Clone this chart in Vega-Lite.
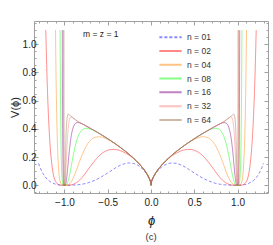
{
  "$schema": "https://vega.github.io/schema/vega-lite/v6.json",
  "width": 234,
  "height": 172,
  "autosize": "none",
  "padding": {"left": 34, "top": 21, "right": 5, "bottom": 52},
  "background": "white",
  "title": {"text": "(c)", "orient": "bottom", "fontSize": 9.5, "fontWeight": "normal", "color": "#333333", "font": "Liberation Sans", "offset": 5},
  "config": {
    "font": "Liberation Sans",
    "view": {"stroke": "#a0a0a0", "strokeWidth": 1},
    "axis": {"grid": false, "domain": false, "tickColor": "#a0a0a0", "tickWidth": 1, "labelColor": "#222222", "labelFont": "Liberation Sans", "labelFontSize": 10, "titleColor": "#222222", "titleFont": "Liberation Sans", "titleFontWeight": "normal"},
    "legend": {"orient": "none", "legendX": 124, "legendY": 10, "symbolType": "stroke", "symbolSize": 497, "symbolStrokeWidth": 2, "symbolOpacity": 1, "labelFontSize": 8.5, "labelColor": "#333333", "labelFont": "Liberation Sans", "labelOffset": 4, "rowPadding": 0.8, "clipHeight": 12.3}
  },
  "datasets": {
    "curves": [
      {"n":"n = 01","x":-1.3,"v":0.155},{"n":"n = 01","x":-1.25,"v":0.085},{"n":"n = 01","x":-1.2,"v":0.043},{"n":"n = 01","x":-1.15,"v":0.02},{"n":"n = 01","x":-1.1,"v":0.007},{"n":"n = 01","x":-1.05,"v":0.001},{"n":"n = 01","x":-1,"v":0},{"n":"n = 01","x":-0.95,"v":0},{"n":"n = 01","x":-0.9,"v":0.001},{"n":"n = 01","x":-0.85,"v":0.003},{"n":"n = 01","x":-0.8,"v":0.007},{"n":"n = 01","x":-0.75,"v":0.013},{"n":"n = 01","x":-0.7,"v":0.023},{"n":"n = 01","x":-0.65,"v":0.035},{"n":"n = 01","x":-0.6,"v":0.05},{"n":"n = 01","x":-0.55,"v":0.068},{"n":"n = 01","x":-0.5,"v":0.087},{"n":"n = 01","x":-0.45,"v":0.107},{"n":"n = 01","x":-0.4,"v":0.127},{"n":"n = 01","x":-0.35,"v":0.143},{"n":"n = 01","x":-0.3,"v":0.154},{"n":"n = 01","x":-0.25,"v":0.158},{"n":"n = 01","x":-0.2,"v":0.154},{"n":"n = 01","x":-0.15,"v":0.141},{"n":"n = 01","x":-0.1,"v":0.117},{"n":"n = 01","x":-0.05,"v":0.079},{"n":"n = 01","x":-0.02,"v":0.046},{"n":"n = 01","x":-0.005,"v":0.02},
      {"n":"n = 01","x":0,"v":0},
      {"n":"n = 01","x":0.005,"v":0.02},{"n":"n = 01","x":0.02,"v":0.046},{"n":"n = 01","x":0.05,"v":0.079},{"n":"n = 01","x":0.1,"v":0.117},{"n":"n = 01","x":0.15,"v":0.141},{"n":"n = 01","x":0.2,"v":0.154},{"n":"n = 01","x":0.25,"v":0.158},{"n":"n = 01","x":0.3,"v":0.154},{"n":"n = 01","x":0.35,"v":0.143},{"n":"n = 01","x":0.4,"v":0.127},{"n":"n = 01","x":0.45,"v":0.107},{"n":"n = 01","x":0.5,"v":0.087},{"n":"n = 01","x":0.55,"v":0.068},{"n":"n = 01","x":0.6,"v":0.05},{"n":"n = 01","x":0.65,"v":0.035},{"n":"n = 01","x":0.7,"v":0.023},{"n":"n = 01","x":0.75,"v":0.013},{"n":"n = 01","x":0.8,"v":0.007},{"n":"n = 01","x":0.85,"v":0.003},{"n":"n = 01","x":0.9,"v":0.001},{"n":"n = 01","x":0.95,"v":0},{"n":"n = 01","x":1,"v":0},{"n":"n = 01","x":1.05,"v":0.001},{"n":"n = 01","x":1.1,"v":0.007},{"n":"n = 01","x":1.15,"v":0.02},{"n":"n = 01","x":1.2,"v":0.043},{"n":"n = 01","x":1.25,"v":0.085},{"n":"n = 01","x":1.3,"v":0.155},

      {"n":"n = 02","x":-1.2158,"v":1.1},{"n":"n = 02","x":-1.2,"v":0.741},{"n":"n = 02","x":-1.175,"v":0.371},{"n":"n = 02","x":-1.15,"v":0.171},{"n":"n = 02","x":-1.1,"v":0.0246},{"n":"n = 02","x":-1.05,"v":0.0011},{"n":"n = 02","x":-1,"v":0},{"n":"n = 02","x":-0.95,"v":0.0006},{"n":"n = 02","x":-0.9,"v":0.0066},{"n":"n = 02","x":-0.85,"v":0.0237},{"n":"n = 02","x":-0.8,"v":0.053},{"n":"n = 02","x":-0.75,"v":0.092},{"n":"n = 02","x":-0.7,"v":0.134},{"n":"n = 02","x":-0.65,"v":0.174},{"n":"n = 02","x":-0.6,"v":0.208},{"n":"n = 02","x":-0.55,"v":0.233},{"n":"n = 02","x":-0.5,"v":0.248},{"n":"n = 02","x":-0.45,"v":0.254},{"n":"n = 02","x":-0.4,"v":0.252},{"n":"n = 02","x":-0.35,"v":0.244},{"n":"n = 02","x":-0.3,"v":0.23},{"n":"n = 02","x":-0.25,"v":0.212},{"n":"n = 02","x":-0.2,"v":0.1885},{"n":"n = 02","x":-0.15,"v":0.1598},{"n":"n = 02","x":-0.1,"v":0.1256},{"n":"n = 02","x":-0.05,"v":0.0829},{"n":"n = 02","x":-0.02,"v":0.0478},{"n":"n = 02","x":-0.005,"v":0.0208},
      {"n":"n = 02","x":0,"v":0},
      {"n":"n = 02","x":0.005,"v":0.0208},{"n":"n = 02","x":0.02,"v":0.0478},{"n":"n = 02","x":0.05,"v":0.0829},{"n":"n = 02","x":0.1,"v":0.1256},{"n":"n = 02","x":0.15,"v":0.1598},{"n":"n = 02","x":0.2,"v":0.1885},{"n":"n = 02","x":0.25,"v":0.212},{"n":"n = 02","x":0.3,"v":0.23},{"n":"n = 02","x":0.35,"v":0.244},{"n":"n = 02","x":0.4,"v":0.252},{"n":"n = 02","x":0.45,"v":0.254},{"n":"n = 02","x":0.5,"v":0.248},{"n":"n = 02","x":0.55,"v":0.233},{"n":"n = 02","x":0.6,"v":0.208},{"n":"n = 02","x":0.65,"v":0.174},{"n":"n = 02","x":0.7,"v":0.134},{"n":"n = 02","x":0.75,"v":0.092},{"n":"n = 02","x":0.8,"v":0.053},{"n":"n = 02","x":0.85,"v":0.0237},{"n":"n = 02","x":0.9,"v":0.0066},{"n":"n = 02","x":0.95,"v":0.0006},{"n":"n = 02","x":1,"v":0},{"n":"n = 02","x":1.05,"v":0.0011},{"n":"n = 02","x":1.1,"v":0.0246},{"n":"n = 02","x":1.15,"v":0.171},{"n":"n = 02","x":1.175,"v":0.371},{"n":"n = 02","x":1.2,"v":0.741},{"n":"n = 02","x":1.2158,"v":1.1},

      {"n":"n = 04","x":-1.1036,"v":1.1},{"n":"n = 04","x":-1.1,"v":0.9055},{"n":"n = 04","x":-1.09,"v":0.511},{"n":"n = 04","x":-1.075,"v":0.1968},{"n":"n = 04","x":-1.05,"v":0.0268},{"n":"n = 04","x":-1.025,"v":0.0011},{"n":"n = 04","x":-1,"v":0},{"n":"n = 04","x":-0.975,"v":0.0006},{"n":"n = 04","x":-0.95,"v":0.0062},{"n":"n = 04","x":-0.925,"v":0.0221},{"n":"n = 04","x":-0.9,"v":0.0494},{"n":"n = 04","x":-0.875,"v":0.0857},{"n":"n = 04","x":-0.85,"v":0.127},{"n":"n = 04","x":-0.8,"v":0.2097},{"n":"n = 04","x":-0.75,"v":0.2759},{"n":"n = 04","x":-0.7,"v":0.3184},{"n":"n = 04","x":-0.65,"v":0.3392},{"n":"n = 04","x":-0.6,"v":0.3439},{"n":"n = 04","x":-0.55,"v":0.3378},{"n":"n = 04","x":-0.5,"v":0.3248},{"n":"n = 04","x":-0.4,"v":0.2877},{"n":"n = 04","x":-0.3,"v":0.2428},{"n":"n = 04","x":-0.2,"v":0.1904},{"n":"n = 04","x":-0.15,"v":0.1602},{"n":"n = 04","x":-0.1,"v":0.1256},{"n":"n = 04","x":-0.05,"v":0.0829},{"n":"n = 04","x":-0.02,"v":0.0478},{"n":"n = 04","x":-0.005,"v":0.0208},
      {"n":"n = 04","x":0,"v":0},
      {"n":"n = 04","x":0.005,"v":0.0208},{"n":"n = 04","x":0.02,"v":0.0478},{"n":"n = 04","x":0.05,"v":0.0829},{"n":"n = 04","x":0.1,"v":0.1256},{"n":"n = 04","x":0.15,"v":0.1602},{"n":"n = 04","x":0.2,"v":0.1904},{"n":"n = 04","x":0.3,"v":0.2428},{"n":"n = 04","x":0.4,"v":0.2877},{"n":"n = 04","x":0.5,"v":0.3248},{"n":"n = 04","x":0.55,"v":0.3378},{"n":"n = 04","x":0.6,"v":0.3439},{"n":"n = 04","x":0.65,"v":0.3392},{"n":"n = 04","x":0.7,"v":0.3184},{"n":"n = 04","x":0.75,"v":0.2759},{"n":"n = 04","x":0.8,"v":0.2097},{"n":"n = 04","x":0.85,"v":0.127},{"n":"n = 04","x":0.875,"v":0.0857},{"n":"n = 04","x":0.9,"v":0.0494},{"n":"n = 04","x":0.925,"v":0.0221},{"n":"n = 04","x":0.95,"v":0.0062},{"n":"n = 04","x":0.975,"v":0.0006},{"n":"n = 04","x":1,"v":0},{"n":"n = 04","x":1.025,"v":0.0011},{"n":"n = 04","x":1.05,"v":0.0268},{"n":"n = 04","x":1.075,"v":0.1968},{"n":"n = 04","x":1.09,"v":0.511},{"n":"n = 04","x":1.1,"v":0.9055},{"n":"n = 04","x":1.1036,"v":1.1},

      {"n":"n = 08","x":-1.0508,"v":1.1},{"n":"n = 08","x":-1.05,"v":1.008},{"n":"n = 08","x":-1.04,"v":0.2973},{"n":"n = 08","x":-1.03,"v":0.0681},{"n":"n = 08","x":-1.02,"v":0.0098},{"n":"n = 08","x":-1.01,"v":0.0004},{"n":"n = 08","x":-1,"v":0},{"n":"n = 08","x":-0.99,"v":0.0002},{"n":"n = 08","x":-0.98,"v":0.0029},{"n":"n = 08","x":-0.97,"v":0.0109},{"n":"n = 08","x":-0.96,"v":0.0258},{"n":"n = 08","x":-0.95,"v":0.0477},{"n":"n = 08","x":-0.925,"v":0.1231},{"n":"n = 08","x":-0.9,"v":0.2068},{"n":"n = 08","x":-0.875,"v":0.2792},{"n":"n = 08","x":-0.85,"v":0.333},{"n":"n = 08","x":-0.825,"v":0.3689},{"n":"n = 08","x":-0.8,"v":0.3901},{"n":"n = 08","x":-0.775,"v":0.4008},{"n":"n = 08","x":-0.75,"v":0.4041},{"n":"n = 08","x":-0.7,"v":0.3984},{"n":"n = 08","x":-0.65,"v":0.3845},{"n":"n = 08","x":-0.6,"v":0.3676},{"n":"n = 08","x":-0.5,"v":0.3299},{"n":"n = 08","x":-0.4,"v":0.2885},{"n":"n = 08","x":-0.3,"v":0.2428},{"n":"n = 08","x":-0.2,"v":0.1904},{"n":"n = 08","x":-0.15,"v":0.1602},{"n":"n = 08","x":-0.1,"v":0.1256},{"n":"n = 08","x":-0.05,"v":0.0829},{"n":"n = 08","x":-0.02,"v":0.0478},{"n":"n = 08","x":-0.005,"v":0.0208},
      {"n":"n = 08","x":0,"v":0},
      {"n":"n = 08","x":0.005,"v":0.0208},{"n":"n = 08","x":0.02,"v":0.0478},{"n":"n = 08","x":0.05,"v":0.0829},{"n":"n = 08","x":0.1,"v":0.1256},{"n":"n = 08","x":0.15,"v":0.1602},{"n":"n = 08","x":0.2,"v":0.1904},{"n":"n = 08","x":0.3,"v":0.2428},{"n":"n = 08","x":0.4,"v":0.2885},{"n":"n = 08","x":0.5,"v":0.3299},{"n":"n = 08","x":0.6,"v":0.3676},{"n":"n = 08","x":0.65,"v":0.3845},{"n":"n = 08","x":0.7,"v":0.3984},{"n":"n = 08","x":0.75,"v":0.4041},{"n":"n = 08","x":0.775,"v":0.4008},{"n":"n = 08","x":0.8,"v":0.3901},{"n":"n = 08","x":0.825,"v":0.3689},{"n":"n = 08","x":0.85,"v":0.333},{"n":"n = 08","x":0.875,"v":0.2792},{"n":"n = 08","x":0.9,"v":0.2068},{"n":"n = 08","x":0.925,"v":0.1231},{"n":"n = 08","x":0.95,"v":0.0477},{"n":"n = 08","x":0.96,"v":0.0258},{"n":"n = 08","x":0.97,"v":0.0109},{"n":"n = 08","x":0.98,"v":0.0029},{"n":"n = 08","x":0.99,"v":0.0002},{"n":"n = 08","x":1,"v":0},{"n":"n = 08","x":1.01,"v":0.0004},{"n":"n = 08","x":1.02,"v":0.0098},{"n":"n = 08","x":1.03,"v":0.0681},{"n":"n = 08","x":1.04,"v":0.2973},{"n":"n = 08","x":1.05,"v":1.008},{"n":"n = 08","x":1.0508,"v":1.1},

      {"n":"n = 16","x":-1.0251,"v":1.1},{"n":"n = 16","x":-1.0225,"v":0.588},{"n":"n = 16","x":-1.02,"v":0.3097},{"n":"n = 16","x":-1.01,"v":0.0099},{"n":"n = 16","x":-1,"v":0},{"n":"n = 16","x":-0.99,"v":0.0028},{"n":"n = 16","x":-0.98,"v":0.0254},{"n":"n = 16","x":-0.97,"v":0.0738},{"n":"n = 16","x":-0.96,"v":0.1379},{"n":"n = 16","x":-0.95,"v":0.2049},{"n":"n = 16","x":-0.94,"v":0.266},{"n":"n = 16","x":-0.925,"v":0.338},{"n":"n = 16","x":-0.9,"v":0.4082},{"n":"n = 16","x":-0.875,"v":0.437},{"n":"n = 16","x":-0.85,"v":0.4445},{"n":"n = 16","x":-0.825,"v":0.4425},{"n":"n = 16","x":-0.8,"v":0.4365},{"n":"n = 16","x":-0.75,"v":0.4205},{"n":"n = 16","x":-0.7,"v":0.4037},{"n":"n = 16","x":-0.6,"v":0.368},{"n":"n = 16","x":-0.5,"v":0.3299},{"n":"n = 16","x":-0.4,"v":0.2885},{"n":"n = 16","x":-0.3,"v":0.2428},{"n":"n = 16","x":-0.2,"v":0.1904},{"n":"n = 16","x":-0.15,"v":0.1602},{"n":"n = 16","x":-0.1,"v":0.1256},{"n":"n = 16","x":-0.05,"v":0.0829},{"n":"n = 16","x":-0.02,"v":0.0478},{"n":"n = 16","x":-0.005,"v":0.0208},
      {"n":"n = 16","x":0,"v":0},
      {"n":"n = 16","x":0.005,"v":0.0208},{"n":"n = 16","x":0.02,"v":0.0478},{"n":"n = 16","x":0.05,"v":0.0829},{"n":"n = 16","x":0.1,"v":0.1256},{"n":"n = 16","x":0.15,"v":0.1602},{"n":"n = 16","x":0.2,"v":0.1904},{"n":"n = 16","x":0.3,"v":0.2428},{"n":"n = 16","x":0.4,"v":0.2885},{"n":"n = 16","x":0.5,"v":0.3299},{"n":"n = 16","x":0.6,"v":0.368},{"n":"n = 16","x":0.7,"v":0.4037},{"n":"n = 16","x":0.75,"v":0.4205},{"n":"n = 16","x":0.8,"v":0.4365},{"n":"n = 16","x":0.825,"v":0.4425},{"n":"n = 16","x":0.85,"v":0.4445},{"n":"n = 16","x":0.875,"v":0.437},{"n":"n = 16","x":0.9,"v":0.4082},{"n":"n = 16","x":0.925,"v":0.338},{"n":"n = 16","x":0.94,"v":0.266},{"n":"n = 16","x":0.95,"v":0.2049},{"n":"n = 16","x":0.96,"v":0.1379},{"n":"n = 16","x":0.97,"v":0.0738},{"n":"n = 16","x":0.98,"v":0.0254},{"n":"n = 16","x":0.99,"v":0.0028},{"n":"n = 16","x":1,"v":0},{"n":"n = 16","x":1.01,"v":0.0099},{"n":"n = 16","x":1.02,"v":0.3097},{"n":"n = 16","x":1.0225,"v":0.588},{"n":"n = 16","x":1.0251,"v":1.1},

      {"n":"n = 32","x":-1.0125,"v":1.1},{"n":"n = 32","x":-1.01,"v":0.316},{"n":"n = 32","x":-1.005,"v":0.01},{"n":"n = 32","x":-1,"v":0},{"n":"n = 32","x":-0.995,"v":0.003},{"n":"n = 32","x":-0.99,"v":0.026},{"n":"n = 32","x":-0.98,"v":0.143},{"n":"n = 32","x":-0.97,"v":0.28},{"n":"n = 32","x":-0.96,"v":0.38},{"n":"n = 32","x":-0.95,"v":0.44},{"n":"n = 32","x":-0.94,"v":0.472},{"n":"n = 32","x":-0.935,"v":0.479},{"n":"n = 32","x":-0.925,"v":0.484},{"n":"n = 32","x":-0.915,"v":0.482},{"n":"n = 32","x":-0.9,"v":0.4765},{"n":"n = 32","x":-0.875,"v":0.4655},{"n":"n = 32","x":-0.85,"v":0.4535},{"n":"n = 32","x":-0.8,"v":0.4373},{"n":"n = 32","x":-0.7,"v":0.4037},{"n":"n = 32","x":-0.6,"v":0.368},{"n":"n = 32","x":-0.5,"v":0.3299},{"n":"n = 32","x":-0.4,"v":0.2885},{"n":"n = 32","x":-0.3,"v":0.2428},{"n":"n = 32","x":-0.2,"v":0.1904},{"n":"n = 32","x":-0.15,"v":0.1602},{"n":"n = 32","x":-0.1,"v":0.1256},{"n":"n = 32","x":-0.05,"v":0.0829},{"n":"n = 32","x":-0.02,"v":0.0478},{"n":"n = 32","x":-0.005,"v":0.0208},
      {"n":"n = 32","x":0,"v":0},
      {"n":"n = 32","x":0.005,"v":0.0208},{"n":"n = 32","x":0.02,"v":0.0478},{"n":"n = 32","x":0.05,"v":0.0829},{"n":"n = 32","x":0.1,"v":0.1256},{"n":"n = 32","x":0.15,"v":0.1602},{"n":"n = 32","x":0.2,"v":0.1904},{"n":"n = 32","x":0.3,"v":0.2428},{"n":"n = 32","x":0.4,"v":0.2885},{"n":"n = 32","x":0.5,"v":0.3299},{"n":"n = 32","x":0.6,"v":0.368},{"n":"n = 32","x":0.7,"v":0.4037},{"n":"n = 32","x":0.8,"v":0.4373},{"n":"n = 32","x":0.85,"v":0.4535},{"n":"n = 32","x":0.875,"v":0.4655},{"n":"n = 32","x":0.9,"v":0.4765},{"n":"n = 32","x":0.915,"v":0.482},{"n":"n = 32","x":0.925,"v":0.484},{"n":"n = 32","x":0.935,"v":0.479},{"n":"n = 32","x":0.94,"v":0.472},{"n":"n = 32","x":0.95,"v":0.44},{"n":"n = 32","x":0.96,"v":0.38},{"n":"n = 32","x":0.97,"v":0.28},{"n":"n = 32","x":0.98,"v":0.143},{"n":"n = 32","x":0.99,"v":0.026},{"n":"n = 32","x":0.995,"v":0.003},{"n":"n = 32","x":1,"v":0},{"n":"n = 32","x":1.005,"v":0.01},{"n":"n = 32","x":1.01,"v":0.316},{"n":"n = 32","x":1.0125,"v":1.1},

      {"n":"n = 64","x":-1.0062,"v":1.1},{"n":"n = 64","x":-1.005,"v":0.319},{"n":"n = 64","x":-1.0025,"v":0.01},{"n":"n = 64","x":-1,"v":0},{"n":"n = 64","x":-0.995,"v":0.027},{"n":"n = 64","x":-0.99,"v":0.145},{"n":"n = 64","x":-0.985,"v":0.28},{"n":"n = 64","x":-0.98,"v":0.38},{"n":"n = 64","x":-0.975,"v":0.44},{"n":"n = 64","x":-0.97,"v":0.475},{"n":"n = 64","x":-0.963,"v":0.497},{"n":"n = 64","x":-0.957,"v":0.504},{"n":"n = 64","x":-0.95,"v":0.502},{"n":"n = 64","x":-0.94,"v":0.497},{"n":"n = 64","x":-0.925,"v":0.49},{"n":"n = 64","x":-0.9,"v":0.478},{"n":"n = 64","x":-0.875,"v":0.466},{"n":"n = 64","x":-0.85,"v":0.4545},{"n":"n = 64","x":-0.8,"v":0.4373},{"n":"n = 64","x":-0.7,"v":0.4037},{"n":"n = 64","x":-0.6,"v":0.368},{"n":"n = 64","x":-0.5,"v":0.3299},{"n":"n = 64","x":-0.4,"v":0.2885},{"n":"n = 64","x":-0.3,"v":0.2428},{"n":"n = 64","x":-0.2,"v":0.1904},{"n":"n = 64","x":-0.15,"v":0.1602},{"n":"n = 64","x":-0.1,"v":0.1256},{"n":"n = 64","x":-0.05,"v":0.0829},{"n":"n = 64","x":-0.02,"v":0.0478},{"n":"n = 64","x":-0.005,"v":0.0208},
      {"n":"n = 64","x":0,"v":0},
      {"n":"n = 64","x":0.005,"v":0.0208},{"n":"n = 64","x":0.02,"v":0.0478},{"n":"n = 64","x":0.05,"v":0.0829},{"n":"n = 64","x":0.1,"v":0.1256},{"n":"n = 64","x":0.15,"v":0.1602},{"n":"n = 64","x":0.2,"v":0.1904},{"n":"n = 64","x":0.3,"v":0.2428},{"n":"n = 64","x":0.4,"v":0.2885},{"n":"n = 64","x":0.5,"v":0.3299},{"n":"n = 64","x":0.6,"v":0.368},{"n":"n = 64","x":0.7,"v":0.4037},{"n":"n = 64","x":0.8,"v":0.4373},{"n":"n = 64","x":0.85,"v":0.4545},{"n":"n = 64","x":0.875,"v":0.466},{"n":"n = 64","x":0.9,"v":0.478},{"n":"n = 64","x":0.925,"v":0.49},{"n":"n = 64","x":0.94,"v":0.497},{"n":"n = 64","x":0.95,"v":0.502},{"n":"n = 64","x":0.957,"v":0.504},{"n":"n = 64","x":0.963,"v":0.497},{"n":"n = 64","x":0.97,"v":0.475},{"n":"n = 64","x":0.975,"v":0.44},{"n":"n = 64","x":0.98,"v":0.38},{"n":"n = 64","x":0.985,"v":0.28},{"n":"n = 64","x":0.99,"v":0.145},{"n":"n = 64","x":0.995,"v":0.027},{"n":"n = 64","x":1,"v":0},{"n":"n = 64","x":1.0025,"v":0.01},{"n":"n = 64","x":1.005,"v":0.319},{"n":"n = 64","x":1.0062,"v":1.1}
    ]
  },
  "layer": [
    {
      "data": {"name": "curves"},
      "mark": {"type": "line", "strokeWidth": 1, "interpolate": "monotone"},
      "encoding": {
        "x": {"field": "x", "type": "quantitative", "scale": {"domain": [-1.352, 1.352], "nice": false, "zero": false},
              "axis": {"orient": "bottom", "values": [-1, -0.5, 0, 0.5, 1], "format": ".1f", "tickSize": -4, "labelPadding": 8, "title": "ϕ", "titleFontStyle": "italic", "titleFontSize": 13, "titlePadding": 7}},
        "y": {"field": "v", "type": "quantitative", "scale": {"domain": [-0.055, 1.165], "nice": false, "zero": false},
              "axis": {"orient": "left", "values": [0, 0.2, 0.4, 0.6, 0.8, 1], "format": ".1f", "tickSize": -4, "labelPadding": 2, "title": "V(ϕ)", "titleFontSize": 11, "titlePadding": 2}},
        "color": {"field": "n", "type": "nominal", "scale": {"domain": ["n = 01","n = 02","n = 04","n = 08","n = 16","n = 32","n = 64"], "range": ["#0000ff","#ff0000","#ff8000","#00ff00","#800080","#ff8080","#a07850"]}, "legend": {"title": null}},
        "strokeDash": {"field": "n", "type": "nominal", "scale": {"domain": ["n = 01","n = 02","n = 04","n = 08","n = 16","n = 32","n = 64"], "range": [[3,2],[1,0],[1,0],[1,0],[1,0],[1,0],[1,0]]}, "legend": {"title": null}},
        "opacity": {"field": "n", "type": "nominal", "scale": {"domain": ["n = 01","n = 02","n = 04","n = 08","n = 16","n = 32","n = 64"], "range": [0.45,0.5,0.5,0.5,0.5,0.5,0.6]}, "legend": null}
      }
    },
    {
      "data": {"values": [{"x": 0, "v": 0}]},
      "mark": {"type": "point", "opacity": 0},
      "encoding": {
        "x": {"field": "x", "type": "quantitative", "scale": {"domain": [-1.352, 1.352], "nice": false, "zero": false},
              "axis": {"orient": "top", "values": [-1, -0.5, 0, 0.5, 1], "labels": false, "tickSize": -4, "title": null}},
        "y": {"field": "v", "type": "quantitative", "scale": {"domain": [-0.055, 1.165], "nice": false, "zero": false},
              "axis": {"orient": "right", "values": [0, 0.2, 0.4, 0.6, 0.8, 1], "labels": false, "tickSize": -4, "title": null}}
      }
    },
    {
      "data": {"values": [{"x": 0, "v": 0}]},
      "mark": {"type": "point", "opacity": 0},
      "encoding": {
        "x": {"field": "x", "type": "quantitative", "scale": {"domain": [-1.352, 1.352], "nice": false, "zero": false},
              "axis": {"orient": "bottom", "values": [-1.3,-1.2,-1.1,-0.9,-0.8,-0.7,-0.6,-0.4,-0.3,-0.2,-0.1,0.1,0.2,0.3,0.4,0.6,0.7,0.8,0.9,1.1,1.2,1.3], "labels": false, "tickSize": -2, "title": null}},
        "y": {"field": "v", "type": "quantitative", "scale": {"domain": [-0.055, 1.165], "nice": false, "zero": false},
              "axis": {"orient": "left", "values": [-0.05,0.05,0.1,0.15,0.25,0.3,0.35,0.45,0.5,0.55,0.65,0.7,0.75,0.85,0.9,0.95,1.05,1.1,1.15], "labels": false, "tickSize": -2, "title": null}}
      }
    },
    {
      "data": {"values": [{"x": 0, "v": 0}]},
      "mark": {"type": "point", "opacity": 0},
      "encoding": {
        "x": {"field": "x", "type": "quantitative", "scale": {"domain": [-1.352, 1.352], "nice": false, "zero": false},
              "axis": {"orient": "top", "values": [-1.3,-1.2,-1.1,-0.9,-0.8,-0.7,-0.6,-0.4,-0.3,-0.2,-0.1,0.1,0.2,0.3,0.4,0.6,0.7,0.8,0.9,1.1,1.2,1.3], "labels": false, "tickSize": -2, "title": null}},
        "y": {"field": "v", "type": "quantitative", "scale": {"domain": [-0.055, 1.165], "nice": false, "zero": false},
              "axis": {"orient": "right", "values": [-0.05,0.05,0.1,0.15,0.25,0.3,0.35,0.45,0.5,0.55,0.65,0.7,0.75,0.85,0.9,0.95,1.05,1.1,1.15], "labels": false, "tickSize": -2, "title": null}}
      }
    },
    {
      "data": {"values": [{"x": -0.58, "v": 1.07, "t": "m = z = 1"}]},
      "mark": {"type": "text", "fontSize": 8.5, "font": "Liberation Sans", "color": "#222222"},
      "encoding": {
        "x": {"field": "x", "type": "quantitative", "axis": null},
        "y": {"field": "v", "type": "quantitative", "axis": null},
        "text": {"field": "t"}
      }
    }
  ],
  "resolve": {"axis": {"x": "independent", "y": "independent"}}
}
